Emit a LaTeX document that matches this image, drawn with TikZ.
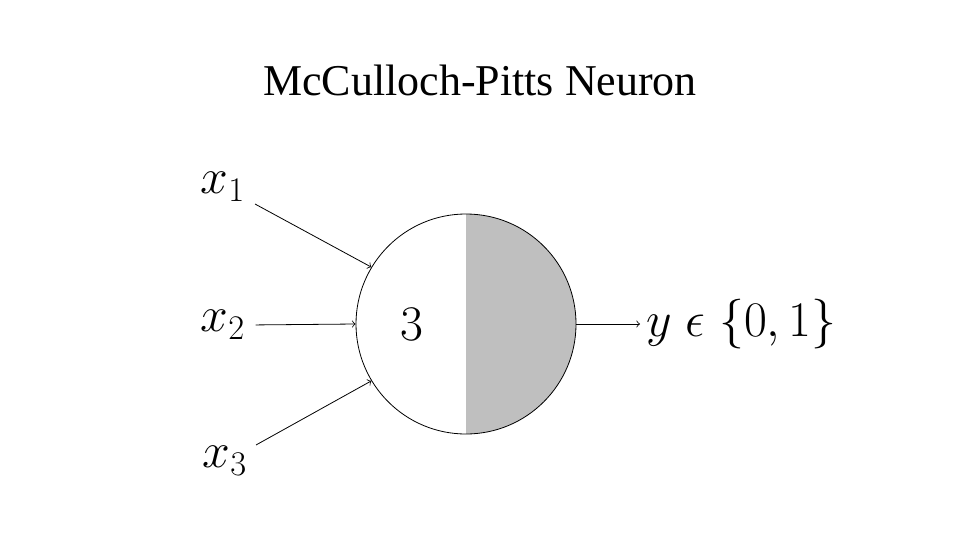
\documentclass[tikz,border=0pt]{standalone}
\usepackage{fontspec}
\setmainfont{Liberation Serif}
\begin{document}
\begin{tikzpicture}[x=0.5pt,y=-0.5pt]
\tikzset{lbl/.style={inner sep=1pt,font=\fontsize{24}{28}\selectfont},
  neuron/.style={circle,draw,thin,minimum size=110pt,inner sep=0pt,
    path picture={\fill[black!25] (path picture bounding box.north) rectangle (path picture bounding box.south east);}}}
\useasboundingbox (0,0) rectangle (961,540);
\node[font=\fontsize{22}{26}\selectfont] (title) at (480,80) {McCulloch-Pitts Neuron};
\node[neuron] (n) at (466,324) {};
\node[lbl] (th) at (412,324) {$3$};
\node[lbl] (x1) at (223,187) {$x_1$};
\node[lbl] (x2) at (223,325) {$x_2$};
\node[lbl] (x3) at (225,461) {$x_3$};
\node[lbl,anchor=west,inner sep=3pt] (y) at (640,324) {$y\;\epsilon\;\{0,1\}$};
\coordinate (s1) at (255,204);
\coordinate (s3) at (256,445);
\draw[thin,->] (s1) -- (n.149);
\draw[thin,->,shorten <=4pt] (x2.east) -- (n.west);
\draw[thin,->] (s3) -- (n.211);
\draw[thin,->] (n.east) -- (y.west);
\end{tikzpicture}
\end{document}
